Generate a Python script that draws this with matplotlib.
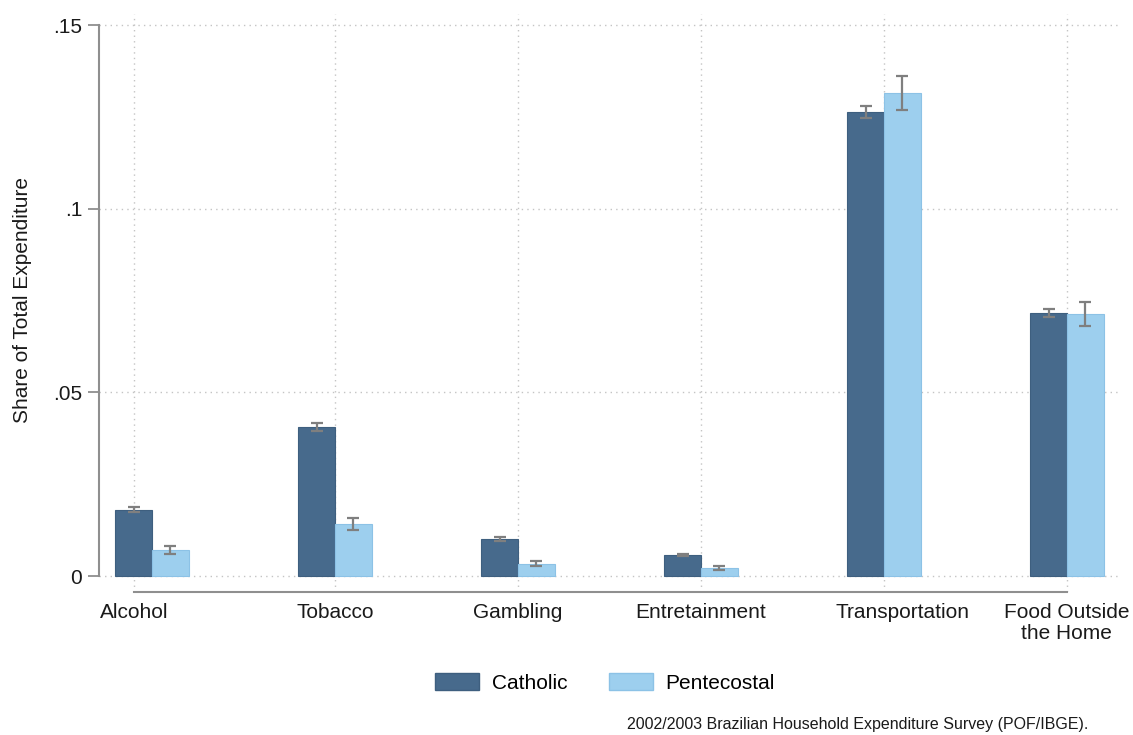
import numpy as np
import matplotlib.pyplot as plt
from matplotlib.patches import Patch

plt.rcParams["font.family"] = ["Liberation Sans", "DejaVu Sans"]

# ── Data ───────────────────────────────────────────────────────────────────
categories = ["Alcohol", "Tobacco", "Gambling", "Entretainment",
              "Transportation", "Food Outside\nthe Home"]
catholic     = [0.0180, 0.0406, 0.0101, 0.0057, 0.1263, 0.0716]
catholic_err = [0.0007, 0.0010, 0.0005, 0.0003, 0.0016, 0.0012]
pente        = [0.0071, 0.0142, 0.0033, 0.0022, 0.1315, 0.0713]
pente_err    = [0.0011, 0.0016, 0.0007, 0.0005, 0.0046, 0.0033]
yticks       = [0, 0.05, 0.10, 0.15]
ytick_labels = ["0", ".05", ".1", ".15"]

# Stata-ish look
C_CATH = "#476a8c"
C_PENT = "#9dcfee"
AXIS_GRAY = "#8f8f8f"
GRID_GRAY = "#c4c4c4"
FS = 15

W, H = 1133, 735
fig = plt.figure(figsize=(W / 100, H / 100), dpi=100)
ax = fig.add_axes([99 / W, (H - 592) / H, (1120 - 99) / W, (592 - 14) / H])

x = np.arange(len(categories))
bw = 0.2
label_shift = np.array([-0.1, 0, 0, 0, 0.1, 0])   # where Stata put the labels
grid_shift = np.array([-0.1, 0, 0, 0, 0, 0])

for gx in x + grid_shift:
    ax.axvline(gx, color=GRID_GRAY, linestyle=(0, (1, 3)), linewidth=1.0, zorder=0)
for gy in yticks:
    ax.axhline(gy, color=GRID_GRAY, linestyle=(0, (1, 3)), linewidth=1.0, zorder=0)

err_kw = dict(ecolor="#7f7f7f", elinewidth=1.6, capsize=4, capthick=1.6)
ax.bar(x - bw / 2, catholic, bw, color=C_CATH, edgecolor="#3e5f7f",
       linewidth=0.8, yerr=catholic_err, error_kw=err_kw, zorder=2)
ax.bar(x + bw / 2, pente, bw, color=C_PENT, edgecolor="#8cc2e6",
       linewidth=0.8, yerr=pente_err, error_kw=err_kw, zorder=2)

ax.set_xlim(-0.29, 5.29)
ax.set_ylim(-(592 - 576) / 3673, (576 - 14) / 3673)

for s in ["top", "right"]:
    ax.spines[s].set_visible(False)
ax.spines["left"].set_bounds(0, 0.15)
ax.spines["bottom"].set_bounds(-0.1, 5)
for s in ["left", "bottom"]:
    ax.spines[s].set_color(AXIS_GRAY)
    ax.spines[s].set_linewidth(1.5)

ax.set_yticks(yticks)
ax.set_yticklabels(ytick_labels, fontsize=FS, color="#1a1a1a")
ax.tick_params(axis="y", length=8, width=1.3, color=AXIS_GRAY, pad=4)

ax.set_xticks(x + label_shift)
ax.set_xticklabels(categories, fontsize=FS, color="#1a1a1a", linespacing=1.1)
ax.tick_params(axis="x", length=0, pad=8)

ax.set_ylabel("Share of Total Expenditure", fontsize=FS, color="#1a1a1a")
ax.yaxis.set_label_coords(-(99 - 32) / (1120 - 99), (592 - 300) / (592 - 14))

handles = [Patch(facecolor=C_CATH, edgecolor="#3e5f7f", label="Catholic"),
           Patch(facecolor=C_PENT, edgecolor="#8cc2e6", label="Pentecostal")]
fig.legend(handles=handles, loc="center", bbox_to_anchor=(605 / W, (H - 683) / H),
           ncol=2, frameon=False, fontsize=FS, handlelength=2.1,
           handleheight=0.85, handletextpad=0.6, columnspacing=2.0)

fig.text(1088 / W, (H - 725) / H,
         "2002/2003 Brazilian Household Expenditure Survey (POF/IBGE).",
         ha="right", va="center", fontsize=11.5, color="#1a1a1a")

fig.savefig("out.png", dpi=100, facecolor="white")
